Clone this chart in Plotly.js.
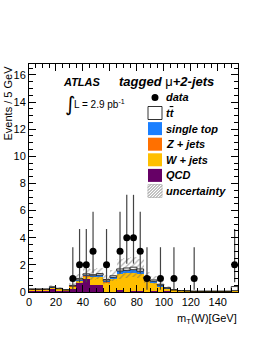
<!DOCTYPE html>
<html>
<head>
<meta charset="utf-8">
<script src="https://cdn.plot.ly/plotly-3.0.1.min.js"></script>
<style>html,body{margin:0;padding:0;background:#fff;}#chart{width:262px;height:339px;}</style>
</head>
<body>
<div id="chart"></div>
<script>
// ---- data (5 GeV bins, 0-155 GeV) ----
const binCenters = [2.5,7.5,12.5,17.5,22.5,27.5,32.5,37.5,42.5,47.5,52.5,57.5,62.5,67.5,72.5,77.5,82.5,87.5,92.5,97.5,102.5,107.5,112.5,117.5,122.5,127.5,132.5,137.5,142.5,147.5,152.5];
const qcd    = [0.08,0.08,0.08,0.20,0.10,0.05,0.20,0.64,0.94,0.50,0.50,0.00,0.00,0.15,0.02,0.05,0.10,0.00,0.05,0.00,0.08,0.02,0.00,0.00,0.00,0.00,0.00,0.00,0.00,0.00,0.00];
const wjets  = [0.10,0.10,0.10,0.12,0.12,0.08,0.20,0.16,0.20,0.58,0.60,0.70,0.95,1.15,1.35,1.35,1.20,0.84,0.60,0.38,0.16,0.10,0.08,0.07,0.05,0.05,0.05,0.05,0.05,0.05,0.10];
const zjets  = [0.01,0.01,0.01,0.01,0.01,0.01,0.01,0.02,0.02,0.02,0.02,0.02,0.03,0.03,0.03,0.03,0.03,0.02,0.02,0.02,0.01,0.01,0.00,0.00,0.00,0.00,0.00,0.00,0.00,0.00,0.00];
const singleTop = [0.01,0.01,0.01,0.02,0.01,0.01,0.03,0.08,0.08,0.10,0.12,0.10,0.10,0.22,0.20,0.22,0.20,0.14,0.12,0.10,0.03,0.02,0.01,0.01,0.00,0.00,0.00,0.00,0.00,0.00,0.00];
const ttbar  = [0.02,0.02,0.02,0.03,0.03,0.02,0.05,0.10,0.10,0.08,0.12,0.10,0.12,0.15,0.17,0.18,0.17,0.10,0.10,0.07,0.04,0.02,0.02,0.01,0.01,0.01,0.01,0.01,0.01,0.01,0.30];
const uncert = [0.05,0.05,0.05,0.12,0.07,0.04,0.15,0.35,0.40,0.40,0.40,0.30,0.40,0.75,0.75,0.75,0.70,0.40,0.30,0.20,0.10,0.05,0.03,0.02,0.02,0.02,0.02,0.02,0.02,0.02,0.05];

const dataX = [32.5,37.5,42.5,47.5,57.5,67.5,72.5,77.5,82.5,87.5,97.5,107.5,122.5,152.5];
const dataY = [1,2,2,3,2,3,4,4,3,1,1,1,1,2];
const dataErrUp   = [2.30,2.64,2.64,2.92,2.64,2.92,3.16,3.16,2.92,2.30,2.30,2.30,2.30,2.64];
const dataErrDown = [0.83,1.29,1.29,1.63,1.29,1.63,1.91,1.91,1.63,0.83,0.83,0.83,0.83,1.29];

const xTicks = [0,20,40,60,80,100,120,140];
const yTicks = [0,2,4,6,8,10,12,14,16];

// ---- styles ----
const colQCD='#660066', colW='#FFBF00', colZ='#FF7000', colST='#1A7FFF';
const FONT='Liberation Sans, Arial, Helvetica, sans-serif';

// stacked bases
const comps = [
  {name:'QCD', y:qcd, color:colQCD},
  {name:'W + jets', y:wjets, color:colW},
  {name:'Z + jets', y:zjets, color:colZ},
  {name:'single top', y:singleTop, color:colST},
  {name:'tt', y:ttbar, color:'#ffffff'}
];
const traces = [];
let base = binCenters.map(()=>0);
comps.forEach((c,i)=>{
  const isTT = (i===comps.length-1);
  traces.push({
    type:'bar', x:binCenters, y:c.y, base:base.slice(), width:5,
    marker:{color:c.color, line:{width:isTT?0.8:0, color:'#000'}},
    hoverinfo:'skip', showlegend:false
  });
  base = base.map((b,k)=>b+c.y[k]);
});
const total = base;
traces.push({
  type:'bar', x:binCenters, y:uncert.map(u=>2*u), base:total.map((t,k)=>Math.max(0,t-uncert[k])), width:5,
  marker:{color:'rgba(0,0,0,0)', line:{width:0},
    pattern:{shape:'/', size:4, solidity:0.3, fgcolor:'#666', bgcolor:'rgba(0,0,0,0)', fillmode:'overlay'}},
  hoverinfo:'skip', showlegend:false
});
traces.push({
  type:'scatter', mode:'markers', x:dataX, y:dataY,
  marker:{color:'#000', size:7},
  error_y:{type:'data', symmetric:false, array:dataErrUp, arrayminus:dataErrDown, thickness:1.2, width:0, color:'#444'},
  hoverinfo:'skip', showlegend:false, cliponaxis:true
});

// ---- layout helpers (pixel -> paper) ----
const L=29, T=64, W=209, H=228;
const px = x => (x-L)/W;
const py = y => (T+H-y)/H;

const shapes = [];
const annotations = [];
const legendItems = [
  {label:'t<span style="text-decoration:overline">t</span>', fill:'#ffffff', line:1},
  {label:'single top', fill:colST},
  {label:'Z + jets', fill:colZ},
  {label:'W + jets', fill:colW},
  {label:'QCD', fill:colQCD},
  {label:'uncertainty', hatch:true}
];
const legFont = {family:FONT, size:11, color:'#000'};
// data entry
const yData = 97.4, dy = 15.6;
shapes.push({type:'circle', xref:'paper', yref:'paper', x0:px(151.5), x1:px(158.5), y0:py(yData+3.5), y1:py(yData-3.5), fillcolor:'#000', line:{width:0}});
annotations.push({xref:'paper', yref:'paper', x:px(164), y:py(yData), xanchor:'left', yanchor:'middle', showarrow:false, text:'<b><i>data</i></b>', font:legFont});
legendItems.forEach((it,i)=>{
  const c = yData + dy*(i+1);
  const x0=148, x1=162, y0=c-6.5, y1=c+6.5;
  if (it.hatch) {
    shapes.push({type:'rect', xref:'paper', yref:'paper', x0:px(x0), x1:px(x1), y0:py(y1), y1:py(y0), fillcolor:'rgba(0,0,0,0)', line:{width:0.6, color:'#aaa'}});
    let p='';
    for (let s=-13; s<14; s+=3) {
      let xa=x0+s, ya=y1, xb=x0+s+13, yb=y0;
      if (xa<x0){ ya = y1-(x0-xa); xa=x0; }
      if (xb>x1){ yb = y0+(xb-x1); xb=x1; }
      if (xa>=xb) continue;
      p += 'M'+px(xa)+','+py(ya)+' L'+px(xb)+','+py(yb)+' ';
    }
    shapes.push({type:'path', xref:'paper', yref:'paper', path:p, line:{width:0.8, color:'#666'}});
  } else {
    shapes.push({type:'rect', xref:'paper', yref:'paper', x0:px(x0), x1:px(x1), y0:py(y1), y1:py(y0), fillcolor:it.fill, line:{width:it.line?0.8:0, color:'#000'}});
  }
  annotations.push({xref:'paper', yref:'paper', x:px(164), y:py(c), xanchor:'left', yanchor:'middle', showarrow:false, text:'<b><i>'+it.label+'</i></b>', font:legFont});
});
// ATLAS labels
annotations.push({xref:'paper', yref:'paper', x:px(61), y:py(82), xanchor:'left', yanchor:'middle', showarrow:false, text:'<b><i>ATLAS</i></b>', font:{family:FONT, size:11, color:'#000'}});
annotations.push({xref:'paper', yref:'paper', x:px(117), y:py(81), xanchor:'left', yanchor:'middle', showarrow:false, text:'<b><i>tagged</i></b> μ<b><i>+2-jets</i></b>', font:{family:FONT, size:13, color:'#000'}});
annotations.push({xref:'paper', yref:'paper', x:px(63), y:py(104), xanchor:'left', yanchor:'middle', showarrow:false, text:'∫', font:{family:'DejaVu Sans, sans-serif', size:20, color:'#000'}});
annotations.push({xref:'paper', yref:'paper', x:px(72), y:py(104), xanchor:'left', yanchor:'middle', showarrow:false, text:'L = 2.9 pb<sup>-1</sup>', font:{family:FONT, size:10, color:'#000'}});
// axis titles
annotations.push({xref:'paper', yref:'paper', x:px(7), y:1.0, xanchor:'center', yanchor:'top', textangle:-90, showarrow:false, text:'Events / 5 GeV', font:{family:FONT, size:11, color:'#000'}});
annotations.push({xref:'paper', yref:'paper', x:px(239), y:py(319), xanchor:'right', yanchor:'middle', showarrow:false, text:'m<sub>T</sub>(W)[GeV]', font:{family:FONT, size:11, color:'#000'}});

const axisCommon = {
  showgrid:false, zeroline:false, showline:true, linecolor:'#000', linewidth:1, mirror:'allticks',
  ticks:'inside', ticklen:7, tickwidth:1, tickcolor:'#000', tickfont:{family:FONT, size:11, color:'#000'}
};
const layout = {
  width:262, height:339,
  margin:{l:L, r:262-L-W, t:T, b:339-T-H, pad:0},
  paper_bgcolor:'#fff', plot_bgcolor:'#fff',
  barmode:'overlay', bargap:0,
  showlegend:false,
  xaxis:Object.assign({}, axisCommon, {range:[0,155], tickvals:xTicks, ticktext:xTicks.map(String),
    minor:{dtick:5, tick0:0, ticks:'inside', ticklen:4, tickcolor:'#000', showgrid:false}}),
  yaxis:Object.assign({}, axisCommon, {range:[0,16.8], tickvals:yTicks, ticktext:yTicks.map(String),
    minor:{dtick:0.5, tick0:0, ticks:'inside', ticklen:4, tickcolor:'#000', showgrid:false}}),
  shapes:shapes, annotations:annotations
};
Plotly.newPlot('chart', traces, layout, {staticPlot:true, displayModeBar:false});
</script>
</body>
</html>
